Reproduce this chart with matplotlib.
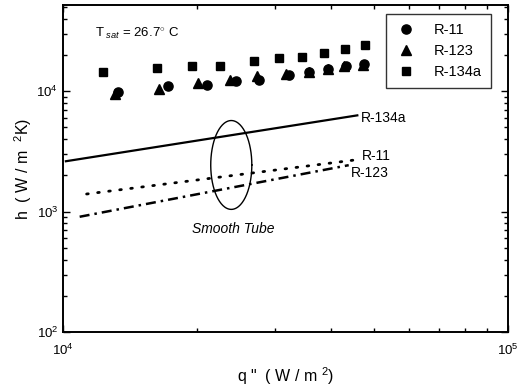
import numpy as np
import matplotlib
matplotlib.use("Agg")
import matplotlib.pyplot as plt
from matplotlib.ticker import LogLocator, NullFormatter

plt.rcParams['font.family'] = ['Liberation Sans', 'DejaVu Sans']
plt.rcParams['mathtext.fontset'] = 'custom'
plt.rcParams['mathtext.rm'] = 'Liberation Sans'
plt.rcParams['mathtext.it'] = 'Liberation Sans:italic'
plt.rcParams['mathtext.bf'] = 'Liberation Sans:bold'

# ---- data ----
q_r11 = [1.33e4, 1.72e4, 2.11e4, 2.45e4, 2.76e4, 3.22e4, 3.57e4, 3.94e4, 4.32e4, 4.75e4]
h_r11 = [9.87e3, 1.10e4, 1.12e4, 1.21e4, 1.23e4, 1.36e4, 1.45e4, 1.54e4, 1.62e4, 1.67e4]
q_r123 = [1.31e4, 1.645e4, 2.01e4, 2.37e4, 2.73e4, 3.17e4, 3.57e4, 3.94e4, 4.28e4, 4.73e4]
h_r123 = [9.4e3, 1.045e4, 1.17e4, 1.23e4, 1.33e4, 1.40e4, 1.45e4, 1.54e4, 1.62e4, 1.64e4]
q_r134a = [1.23e4, 1.63e4, 1.95e4, 2.26e4, 2.69e4, 3.06e4, 3.45e4, 3.86e4, 4.30e4, 4.77e4]
h_r134a = [1.45e4, 1.56e4, 1.62e4, 1.61e4, 1.77e4, 1.87e4, 1.93e4, 2.08e4, 2.24e4, 2.44e4]

# smooth tube correlation lines (end points)
q_s134a = [1.015e4, 4.59e4]
h_s134a = [2.62e3, 6.30e3]
q_s11 = [1.13e4, 4.59e4]
h_s11 = [1.40e3, 2.70e3]
q_s123 = [1.09e4, 4.39e4]
h_s123 = [9.06e2, 2.43e3]

series_labels = ['R-11', 'R-123', 'R-134a']

# ellipse annotation (center and half-axes in decades)
ell_q, ell_h = 2.39e4, 2.44e3
ell_dq, ell_dh = 0.0462, 0.369

fig = plt.figure(figsize=(5.26, 3.90), dpi=100)
ax = fig.add_axes([0.1198, 0.1487, 0.8454, 0.8385])
ax.set_xscale('log')
ax.set_yscale('log')
ax.set_xlim(1e4, 1e5)
ax.set_ylim(1e2, 5.2e4)

ms = 6.6
ax.plot(q_r11, h_r11, 'o', color='black', ms=ms, label=series_labels[0])
ax.plot(q_r123, h_r123, '^', color='black', ms=ms + 0.4, label=series_labels[1])
ax.plot(q_r134a, h_r134a, 's', color='black', ms=ms - 0.6, label=series_labels[2])

ax.plot(q_s134a, h_s134a, '-', color='black', lw=1.6)
ax.plot(q_s11, h_s11, color='black', lw=2.0, linestyle=(0, (0.6, 3.4)), dash_capstyle='round')
ax.plot(q_s123, h_s123, color='black', lw=1.8, linestyle=(0, (4, 2, 1, 2)))

t = np.linspace(0, 2 * np.pi, 200)
ax.plot(10 ** (np.log10(ell_q) + ell_dq * np.cos(t)),
        10 ** (np.log10(ell_h) + ell_dh * np.sin(t)), color='black', lw=1.0)

fs_lab = 10
ax.text(4.67e4, 5.97e3, 'R-134a', fontsize=fs_lab, va='center', ha='left')
ax.text(4.71e4, 2.88e3, 'R-11', fontsize=fs_lab, va='center', ha='left')
ax.text(4.43e4, 2.10e3, 'R-123', fontsize=fs_lab, va='center', ha='left')
ax.text(2.42e4, 7.16e2, 'Smooth Tube', fontsize=fs_lab, va='center', ha='center', style='italic')
ax.text(1.18e4, 10 ** 4.481, r'T$_{\ sat}$ = 26.7$^{\circ}$ C', fontsize=9.5, va='center', ha='left')

leg = ax.legend(loc='upper right', bbox_to_anchor=(0.962, 0.9725), borderaxespad=0,
                fontsize=10.5, frameon=True, fancybox=False, edgecolor='black',
                handletextpad=1.1, labelspacing=0.5, borderpad=0.6, handlelength=1.6)
leg.get_frame().set_linewidth(1.0)

ax.xaxis.set_major_locator(LogLocator(base=10, numticks=10))
ax.xaxis.set_minor_locator(LogLocator(base=10, subs=np.arange(2, 10), numticks=10))
ax.yaxis.set_major_locator(LogLocator(base=10, numticks=10))
ax.yaxis.set_minor_locator(LogLocator(base=10, subs=np.arange(2, 10), numticks=10))
ax.xaxis.set_minor_formatter(NullFormatter())
ax.yaxis.set_minor_formatter(NullFormatter())

ax.tick_params(which='both', direction='in', top=True, right=True, labelsize=9.5, width=1.0)
ax.tick_params(which='major', length=5)
ax.tick_params(which='minor', length=3)
ax.tick_params(axis='x', pad=8)
for sp in ax.spines.values():
    sp.set_linewidth(1.4)

ax.set_xlabel('q "  ( W / m $^{2}$)', fontsize=11.5, labelpad=5)
ax.set_ylabel('h  ( W / m  $^{2}$K)', fontsize=11.5, labelpad=2)

fig.savefig('out.png', dpi=100)
